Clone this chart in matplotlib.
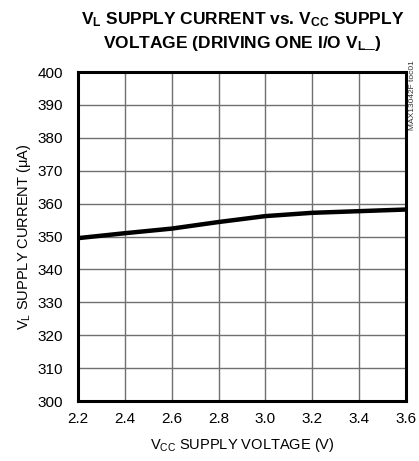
import matplotlib
matplotlib.use("Agg")
import matplotlib.pyplot as plt

# data
vcc = [2.2, 2.4, 2.6, 2.8, 3.0, 3.2, 3.4, 3.6]
il = [349.5, 351.0, 352.4, 354.4, 356.2, 357.2, 357.7, 358.2]

xticks = [2.2, 2.4, 2.6, 2.8, 3.0, 3.2, 3.4, 3.6]
yticks = list(range(300, 401, 10))

plt.rcParams['font.family'] = ['Liberation Sans', 'DejaVu Sans']
plt.rcParams['mathtext.fontset'] = 'custom'
plt.rcParams['mathtext.rm'] = 'Liberation Sans'
plt.rcParams['mathtext.it'] = 'Liberation Sans'
plt.rcParams['mathtext.bf'] = 'Liberation Sans:bold'

fig = plt.figure(figsize=(4.19, 4.61), dpi=100)
ax = fig.add_axes([78/419, 1 - 401/461, 328/419, 329/461])

ax.plot(vcc, il, color='black', lw=3.2, solid_capstyle='butt')

ax.set_xlim(2.2, 3.6)
ax.set_ylim(300, 400)
ax.set_xticks(xticks)
ax.set_xticklabels(['%.1f' % v for v in xticks])
ax.set_yticks(yticks)
ax.grid(True, color='#707070', lw=1.0)
ax.tick_params(length=0, labelsize=11)
ax.tick_params(axis='x', pad=8)
ax.tick_params(axis='y', pad=11)
for s in ax.spines.values():
    s.set_linewidth(2.2)

ax.set_xlabel(r'V$_{\rm CC}$ SUPPLY VOLTAGE (V)', fontsize=10.5, labelpad=7)
ax.set_ylabel(r'V$_{\rm L}$ SUPPLY CURRENT ($\mu$A)', fontsize=10.5, labelpad=3)

fig.text(0.578, 0.957, r'V$_\mathbf{L}$ SUPPLY CURRENT vs. V$_\mathbf{CC}$ SUPPLY',
         ha='center', va='center', fontsize=12.5, fontweight='bold')
fig.text(0.578, 0.905, r'VOLTAGE (DRIVING ONE I/O V$_\mathbf{L}$_)',
         ha='center', va='center', fontsize=12.5, fontweight='bold')

fig.text(412/419, 1 - 95/461, 'MAX13042F toc01', rotation=90, ha='center',
         va='center', fontsize=6, color='#333333')

fig.savefig('out.png', dpi=100)
